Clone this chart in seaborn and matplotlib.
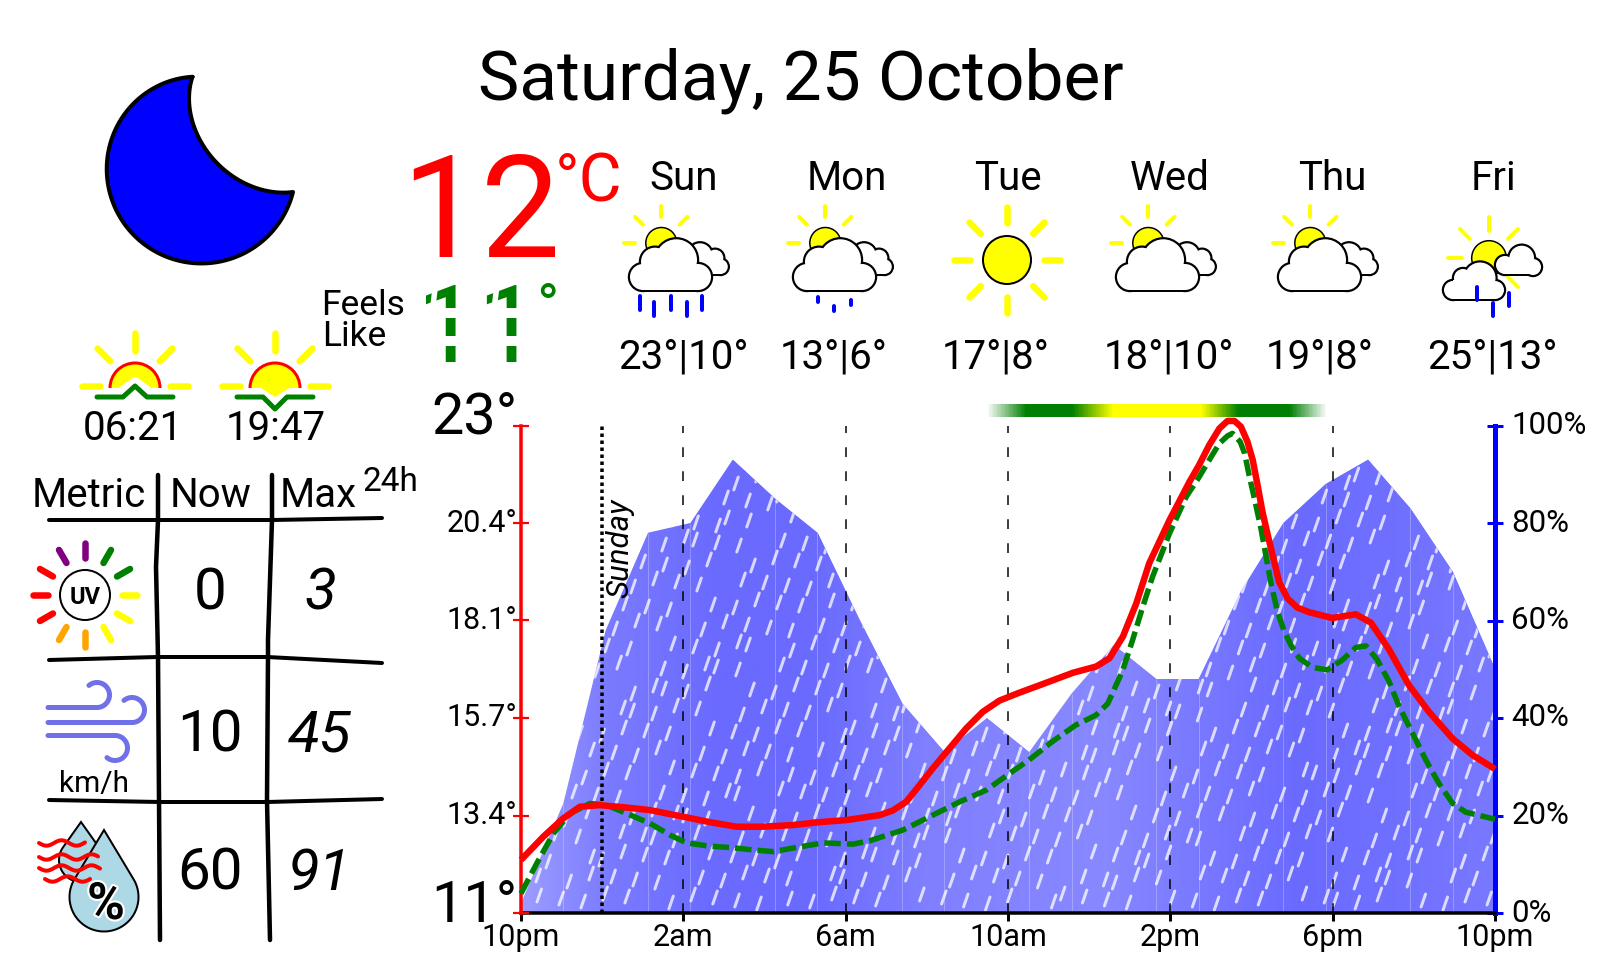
import numpy as np
import matplotlib
matplotlib.use("Agg")
import matplotlib.pyplot as plt
import matplotlib.patheffects as pe
import seaborn as sns
from matplotlib.collections import LineCollection
from matplotlib.colors import LinearSegmentedColormap
from matplotlib.patches import Arc, Circle, Polygon, Rectangle, Wedge
from matplotlib.transforms import ScaledTranslation

# Data
title = "Saturday, 25 October"
now_temp = "12"
feels_like = "11"
sunrise, sunset = "06:21", "19:47"
days = ["Sun", "Mon", "Tue", "Wed", "Thu", "Fri"]
day_temps = ["23°|10°", "13°|6°", "17°|8°", "18°|10°", "19°|8°", "25°|13°"]
table_head = ["Metric", "Now", "Max"]
now_vals = ["0", "10", "60"]
max_vals = ["3", "45", "91"]

x_ticks = [0, 4, 8, 12, 16, 20, 24]
x_labels = ["10pm", "2am", "6am", "10am", "2pm", "6pm", "10pm"]
temp_ticks = [11, 13.35, 15.7, 18.05, 20.4, 22.75]
temp_labels = ["11°", "13.4°", "15.7°", "18.1°", "20.4°", "23°"]
hum_ticks = [0, 20, 40, 60, 80, 100]
hum_labels = ["0%", "20%", "40%", "60%", "80%", "100%"]
day_line_hours = [4, 8, 12, 16, 20]
midnight_hour = 2

# 24 hourly humidity values, spread over the whole width of the axis
humidity = [2, 22.5, 58, 78, 80, 93, 85, 78, 60, 43, 33, 40,
            33, 45, 55, 48, 48, 66, 80, 88, 93, 83, 70, 50]

temp_hours = [0, .55, 1.04, 1.45, 1.94, 2.52, 3.18, 4, 4.65, 5.31, 5.96, 6.7,
              7.36, 8.02, 8.84, 9.16, 9.49, 9.82, 10.15, 10.56, 10.97, 11.38, 11.79, 12.28,
              12.78, 13.6, 14.17, 14.5, 14.83, 15.16, 15.48, 15.98, 16.47, 16.71, 16.96, 17.21,
              17.41, 17.58, 17.74, 17.9, 18.03, 18.15, 18.27, 18.4, 18.52, 18.68, 18.89, 19.13,
              19.42, 19.99, 20.57, 20.94, 21.39, 21.88, 22.38, 22.95, 23.44, 24]
temp_vals = [12.28, 12.84, 13.28, 13.56, 13.6, 13.55, 13.48, 13.32, 13.19, 13.08, 13.08, 13.12,
             13.19, 13.24, 13.36, 13.47, 13.68, 14.08, 14.49, 14.97, 15.45, 15.85, 16.12, 16.31,
             16.49, 16.79, 16.94, 17.14, 17.66, 18.46, 19.43, 20.47, 21.39, 21.8, 22.28, 22.68,
             22.86, 22.86, 22.72, 22.36, 21.92, 21.31, 20.67, 20.11, 19.63, 18.98, 18.58, 18.36,
             18.25, 18.11, 18.2, 18.0, 17.35, 16.49, 15.84, 15.21, 14.81, 14.47]

feel_hours = [0, .39, .8, 1.21, 1.7, 2.11, 2.6, 3.18, 3.67, 4.08, 4.65, 5.14, 5.72, 6.21,
              6.79, 7.44, 8.18, 8.59, 9.41, 10.15, 10.81, 11.46, 11.99, 12.52, 13.09, 13.67,
              14.17, 14.46, 14.7, 14.83, 15.07, 15.32, 15.56, 15.98, 16.39, 16.71, 16.96, 17.21,
              17.41, 17.53, 17.72, 17.83, 17.94, 18.09, 18.23, 18.36, 18.48, 18.64, 18.81, 18.97,
              19.18, 19.5, 19.87, 20.24, 20.57, 20.82, 21.1, 21.39, 21.64, 21.97, 22.3, 22.62,
              22.95, 23.28, 24]
feel_vals = [11.47, 12.2, 12.92, 13.4, 13.64, 13.6, 13.4, 13.16, 12.88, 12.69, 12.61, 12.58,
             12.52, 12.48, 12.58, 12.69, 12.66, 12.74, 13.0, 13.36, 13.68, 13.96, 14.33, 14.69,
             15.13, 15.53, 15.77, 16.05, 16.57, 16.86, 17.58, 18.38, 19.1, 20.15, 21.03, 21.51,
             21.92, 22.32, 22.5, 22.56, 22.36, 22.08, 21.56, 20.91, 20.28, 19.59, 18.95, 18.26,
             17.78, 17.46, 17.14, 16.92, 16.86, 17.1, 17.4, 17.44, 17.1, 16.58, 15.97, 15.33,
             14.68, 14.12, 13.65, 13.43, 13.26]

sns.set_theme(style="white")
plt.rcParams["font.family"] = ["Roboto", "DejaVu Sans"]
plt.rcParams["text.color"] = "black"
PX = 0.72  # one pixel in points at dpi 100

fig = plt.figure(figsize=(16, 9.6), dpi=100, facecolor="white")

# Background layer in pixel coordinates for the icons and texts
bg = fig.add_axes([0, 0, 1, 1])
bg.set_axis_off()


def seg(points, color, width, **kw):
    xs, ys = zip(*points)
    kw.setdefault("solid_capstyle", "round")
    kw.setdefault("solid_joinstyle", "round")
    return bg.plot(xs, ys, color=color, lw=width * PX, **kw)


def sun_rays(cx, cy, inner, outer, width, angles):
    for a in angles:
        a = np.radians(a)
        seg([(cx + inner * np.cos(a), cy - inner * np.sin(a)),
             (cx + outer * np.cos(a), cy - outer * np.sin(a))], "yellow", width, zorder=2)


def cloud(circles, rect, z=3):
    # black blobs first, then the same blobs a bit smaller in white, gives one outline
    for grow, col, zz in [(1.2, "black", z), (-1.0, "white", z + 0.1)]:
        for cx, cy, r in circles:
            bg.add_patch(Circle((cx, cy), r + grow, fc=col, ec="none", zorder=zz))
        x0, y0, x1, y1 = rect
        bg.add_patch(Rectangle((x0, y0), x1 - x0, y1 - y0 + grow, fc=col, ec="none", zorder=zz))


def rain(drops, z=6):
    for x, y0, y1 in drops:
        seg([(x, y0), (x, y1)], "blue", 4, zorder=z)


def part_cloudy(col):
    sun_rays(col - 21.7, 243, 26, 37, 4, [90, 135, 45, 180])
    bg.add_patch(Circle((col - 21.7, 243), 15.5, fc="yellow", ec="black", lw=1.5 * PX, zorder=2.5))
    cloud([(col + 17, 255, 12.7), (col + 32, 258, 9.3), (col + 37.5, 266.7, 8.3)],
          (col + 17, 258, col + 37.5, 275), z=3)
    cloud([(col - 6.7, 260, 21.7), (col - 28, 261.7, 15), (col - 40, 277, 14), (col + 15, 277, 14)],
          (col - 40, 265, col + 15, 291), z=4)


def drop(cx, cy, r, top, z):
    a = np.arccos(r / (cy - top))
    ang = np.linspace(np.pi / 2 + a, 2.5 * np.pi - a, 60)
    pts = [(cx, top)] + [(cx + r * np.cos(t), cy - r * np.sin(t)) for t in ang]
    bg.add_patch(Polygon(pts, closed=True, fc="lightblue", ec="black", lw=2 * PX, zorder=z))


def arc_pts(center, radius, tip_a, tip_b, wrap, n=100):
    # arc round center, pulled out at its two ends so that it meets the tips
    a0 = np.arctan2(tip_a[1] - center[1], tip_a[0] - center[0])
    a1 = np.arctan2(tip_b[1] - center[1], tip_b[0] - center[0]) + wrap
    ra, rb = np.linalg.norm(tip_a - center), np.linalg.norm(tip_b - center)
    u = np.linspace(0, 1, n)
    q = radius + (ra - radius) * (1 - u) ** 6 + (rb - radius) * u ** 6
    ang = a0 + (a1 - a0) * u
    return [center + r * np.array([np.cos(t), np.sin(t)]) for t, r in zip(ang, q)]


# Title and current temperature
bg.text(801, 100, title, fontsize=50, ha="center", va="baseline")
bg.text(401, 257, now_temp, fontsize=102, color="red", ha="left", va="baseline")
bg.text(555, 202, "°C", fontsize=47.5, color="red", ha="left", va="baseline")
bg.text(321, 315, "Feels", fontsize=25.5, ha="left", va="baseline")
bg.text(322, 346, "Like", fontsize=25.5, ha="left", va="baseline")

# Feels like number, the stroke is dashed in the original so white bars cut it
bg.text(417, 362, feels_like, fontsize=78, color="green", ha="left", va="baseline", zorder=2)
bg.text(536, 326, "°", fontsize=43, color="green", ha="left", va="baseline", zorder=2)
bg.add_patch(Rectangle((418, 308), 105, 10, fc="white", ec="none", zorder=3))
bg.add_patch(Rectangle((418, 336), 105, 10, fc="white", ec="none", zorder=3))
for x in [435, 496.5]:
    seg([(x + 1, 280), (x - 2, 306)], "white", 5.5, zorder=3)

# Moon
moon = arc_pts(np.array([201.5, 168.5]), 95, np.array([192.5, 76.8]), np.array([293, 192]), -2 * np.pi, 140)
moon += arc_pts(np.array([297, 85]), 112, np.array([293, 192]), np.array([192.5, 76.8]), 2 * np.pi, 80)
bg.add_patch(Polygon(moon, closed=True, fc="blue", ec="black", lw=4 * PX, joinstyle="round"))

# Sunrise and sunset
for cx, up in [(135, True), (275, False)]:
    sun_rays(cx, 386, 35, 53, 6.5, [90, 135, 45, 180, 0])
    bg.add_patch(Wedge((cx, 388), 25, 180, 360, fc="yellow", ec="none", zorder=2))
    bg.add_patch(Arc((cx, 388), 50, 50, theta1=180, theta2=360, color="red", lw=3 * PX, zorder=2.2))
    if up:
        seg([(cx - 18, 394), (cx, 381), (cx + 18, 394)], "white", 8, zorder=2.5)
        seg([(cx - 38, 397), (cx - 12, 397), (cx, 386), (cx + 12, 397), (cx + 38, 397)], "green", 5, zorder=3)
    else:
        bg.add_patch(Polygon([(cx - 14, 388), (cx + 14, 388), (cx, 397)], fc="yellow", ec="none", zorder=2))
        seg([(cx - 38, 397), (cx - 12, 397), (cx, 409), (cx + 12, 397), (cx + 38, 397)], "green", 5, zorder=3)
bg.text(133, 440, sunrise, fontsize=29, ha="center", va="baseline")
bg.text(276, 440, sunset, fontsize=29, ha="center", va="baseline")

# Table, drawn by hand in the original so the lines wobble a little
seg([(158, 475), (158, 520), (156, 567), (158, 657), (159, 800), (160, 940)], "black", 4.5)
seg([(272, 475), (272, 520), (268, 640), (268, 657), (267, 800), (270, 940)], "black", 4.5)
seg([(49, 520), (157, 520), (272, 520), (382, 518)], "black", 4)
seg([(49, 660), (157, 657), (267, 657), (382, 663)], "black", 4)
seg([(49, 800), (160, 802), (267, 802), (382, 799)], "black", 4)
for x, txt in zip([32, 170, 280], table_head):
    bg.text(x, 507, txt, fontsize=29, ha="left", va="baseline")
bg.text(362, 491, "24h", fontsize=24, ha="left", va="baseline")
for y, now, top in zip([610, 751, 890], now_vals, max_vals):
    bg.text(210, y, now, fontsize=42, ha="center", va="baseline")
    bg.text(320, y, top, fontsize=42, style="italic", ha="center", va="baseline")

# UV icon
uv_cols = ["yellow", "green", "green", "purple", "purple", "red", "red", "red",
           "orange", "orange", "yellow", "yellow"]
for i, col in enumerate(uv_cols):
    a = np.radians(i * 30)
    seg([(85 + 37 * np.cos(a), 595 - 37 * np.sin(a)), (85 + 52 * np.cos(a), 595 - 52 * np.sin(a))], col, 6.5)
bg.add_patch(Circle((85, 595), 25, fc="white", ec="black", lw=2 * PX))
bg.text(85, 595, "UV", fontsize=17, fontweight="bold", ha="center", va="center_baseline")

# Wind icon
wind = "#7070e8"
for x0, x1, cy, start, stop in [(48, 97, 695, 90, -130), (48, 132, 710, 90, -130), (48, 115, 748, -90, 130)]:
    t = np.radians(np.linspace(start, stop, 40))
    ly = cy + 12.5 * (1 if start == 90 else -1)
    arc = [(x1 + 12.5 * np.cos(q), cy + 12.5 * np.sin(q)) for q in t]
    seg([(x0, ly)] + arc, wind, 5)
bg.text(94, 792, "km/h", fontsize=21.5, ha="center", va="baseline")

# Humidity icon
drop(81, 860, 22, 822, 2)
drop(104, 897, 34.5, 830, 3)
for a, b, y in [(39, 85, 843), (39, 98, 857), (39, 100, 868), (45, 90, 879)]:
    xs = np.linspace(a, b, 50)
    bg.plot(xs, y + 2.7 * np.sin((xs - a) / 30 * 2 * np.pi), color="red", lw=4 * PX, zorder=4, solid_capstyle="round")
bg.text(106, 905, "%", fontsize=37, fontweight="bold", ha="center", va="center", zorder=5,
        path_effects=[pe.withStroke(linewidth=3, foreground="white")])

# Forecast row
name_x = [684, 847, 1008, 1170, 1332, 1494]
temp_x = [683, 834, 996, 1169, 1320, 1492]
for nx, tx, day, temps in zip(name_x, temp_x, days, day_temps):
    bg.text(nx, 190, day, fontsize=29, ha="center", va="baseline")
    bg.text(tx, 369, temps, fontsize=29, ha="center", va="baseline")
for col in [683, 847, 1170, 1332]:
    part_cloudy(col)
rain([(640, 296, 310), (654, 302, 316), (671, 296, 310), (687, 302, 316), (702, 296, 310)])
rain([(818, 297, 302), (834, 306, 311), (851, 300, 305)])

# Tue: plain sun
sun_rays(1007, 260, 37, 53, 6.5, range(0, 360, 45))
bg.add_patch(Circle((1007, 260), 24, fc="yellow", ec="black", lw=2 * PX, zorder=3))

# Fri: sun between two small clouds
sun_rays(1489, 258, 27, 41, 4, [90, 135, 45, 180, -45])
bg.add_patch(Circle((1489, 258), 17.3, fc="yellow", ec="black", lw=1.5 * PX, zorder=2.5))
cloud([(1480, 278, 16.5), (1463, 278, 10), (1453, 290, 10), (1495, 290, 10)], (1453, 280, 1495, 300), z=3)
cloud([(1521.7, 258, 13.3), (1505, 265, 10), (1533, 267, 9)], (1505, 260, 1533, 275), z=4)
rain([(1477, 287, 300), (1493, 303, 316), (1509, 293, 306)])

# Band above the chart
band_cmap = LinearSegmentedColormap.from_list(
    "band", [(0, (0, .5, 0, 0)), (.115, (0, .5, 0, 1)), (.25, (0, .5, 0, 1)), (.37, (1, 1, 0, 1)),
             (.63, (1, 1, 0, 1)), (.74, (0, .5, 0, 1)), (.89, (0, .5, 0, 1)), (1, (0, .5, 0, 0))])
bg.imshow(np.linspace(0, 1, 340)[None, :], cmap=band_cmap, extent=(986, 1328, 417, 404), aspect="auto")
bg.set_xlim(0, 1600)
bg.set_ylim(960, 0)

# Chart area: x 521-1495, y 425.5-913 in pixels
left, right, top, bottom = 521, 1495, 425.5, 913
ax = fig.add_axes([left / 1600, 1 - bottom / 960, (right - left) / 1600, (bottom - top) / 960])
ax.patch.set_alpha(0)
tax = ax.twinx()

# Humidity as a filled shape with a horizontal gradient and rain streaks
hum_x = np.linspace(0, 24, len(humidity))
area = ax.fill_between(hum_x, humidity, 0, color="#6868ff", lw=0, zorder=1)
shape = area.get_paths()[0]
grad = LinearSegmentedColormap.from_list(
    "hum", [(0, "#9c9cff"), (.09, "#7a7aff"), (.2, "#6a6aff"), (.3, "#6a6aff"), (.42, "#8080ff"),
            (.6, "#8888ff"), (.7, "#7878ff"), (.8, "#6a6aff"), (.9, "#7070ff"), (1, "#7878ff")])
im = ax.imshow(np.linspace(0, 1, 500)[None, :], cmap=grad, extent=(0, 24, 0, 100), aspect="auto", zorder=1.1)
im.set_clip_path(shape, ax.transData)
seams = [(h, v) for i, (h, v) in enumerate(zip(hum_x, humidity)) if i % 3 != 2 and 0 < i < 23]
ax.vlines([s[0] for s in seams], 0, [s[1] for s in seams], color="white", alpha=.25, lw=1 * PX, zorder=1.2)

# Rain texture on a fixed shuffled lattice, in pixels from the lower left corner
h_per_px, pct_per_px = 1 / 40.625, 1 / 4.875
streaks = []
for row in range(24):
    for c in range(48):
        px = 21 * c + 10 * (row % 2) + ((row * 37 + c * 53) % 13) - 6
        py = 21 * row + 8 + ((row * 29 + c * 41) % 11) - 5
        if (row * 11 + c * 7) % 6 == 0:
            continue
        streaks.append([(px * h_per_px, py * pct_per_px),
                        ((px + 4.5) * h_per_px, (py + 13) * pct_per_px)])
drops = LineCollection(streaks, colors="white", alpha=.75, lw=3 * PX, capstyle="round", zorder=1.3)
ax.add_collection(drops)
drops.set_clip_path(shape, ax.transData)

ax.vlines(day_line_hours, 0, 100, color="black", lw=1.5 * PX, linestyles=[(0, (6.5, 9.5))], zorder=2)
ax.vlines(midnight_hour, 0, 100, color="black", lw=3.5 * PX, linestyles=[(0, (1, 1))], zorder=2)

sns.lineplot(x=temp_hours, y=temp_vals, ax=tax, color="red", lw=6.5 * PX, solid_joinstyle="round",
             solid_capstyle="butt", clip_on=False, zorder=4, errorbar=None, estimator=None, sort=False)
sns.lineplot(x=feel_hours, y=feel_vals, ax=tax, color="green", lw=5.5 * PX, linestyle=(0, (3, 1.1)),
             dash_capstyle="butt", clip_on=False, zorder=3, errorbar=None, estimator=None, sort=False)

ax.set_xlim(0, 24)
ax.set_ylim(0, 100)
tax.set_ylim(11, 22.75)
ax.set_xlabel("")
ax.set_ylabel("")
tax.set_ylabel("")
ax.grid(False)
tax.grid(False)

for a in (ax, tax):
    for s in a.spines.values():
        s.set_visible(False)

ax.spines["bottom"].set_visible(True)
ax.spines["bottom"].set_color("black")
ax.spines["bottom"].set_linewidth(3.5 * PX)
ax.set_xticks(x_ticks, x_labels, fontsize=22)
ax.tick_params(axis="x", bottom=True, direction="inout", length=15 * PX, width=3 * PX, color="black",
               labelcolor="black", pad=1.5)

ax.yaxis.tick_right()
ax.spines["right"].set_visible(True)
ax.spines["right"].set_color("blue")
ax.spines["right"].set_linewidth(5 * PX)
ax.set_yticks(hum_ticks, hum_labels, fontsize=22.5)
ax.tick_params(axis="y", right=True, left=False, direction="inout", length=16 * PX, width=3 * PX, color="blue",
               labelcolor="black", pad=6)
for lab in ax.get_yticklabels():
    lab.set_transform(lab.get_transform() + ScaledTranslation(0, 3 / 100, fig.dpi_scale_trans))

tax.yaxis.tick_left()
tax.spines["left"].set_visible(True)
tax.spines["left"].set_color("red")
tax.spines["left"].set_linewidth(3.5 * PX)
tax.set_yticks(temp_ticks, temp_labels, fontsize=22)
tax.tick_params(axis="y", left=True, right=False, direction="inout", length=16 * PX, width=2.2 * PX, color="red",
                labelcolor="black", pad=-3)
for lab, txt in zip(tax.get_yticklabels(), temp_labels):
    shift = 3
    if txt in ("11°", "23°"):
        lab.set_fontsize(41.5)
        shift = 13
    lab.set_transform(lab.get_transform() + ScaledTranslation(0, shift / 100, fig.dpi_scale_trans))

ax.text(2.43, 74.9, "Sunday", fontsize=22.5, style="italic", rotation=90, ha="center", va="center", zorder=5)
ax.set_zorder(1)
tax.set_zorder(2)

plt.savefig("out.png", dpi=100)
plt.close()
